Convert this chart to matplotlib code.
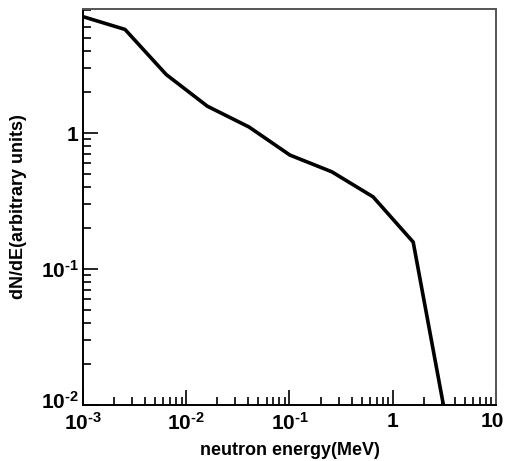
import matplotlib
matplotlib.use("Agg")
import matplotlib.pyplot as plt
import matplotlib.transforms as mtransforms
from matplotlib.ticker import LogLocator, FixedLocator, FixedFormatter, NullFormatter

plt.rcParams['font.family'] = ['Liberation Sans', 'DejaVu Sans']
plt.rcParams['font.weight'] = 'bold'
plt.rcParams['mathtext.fontset'] = 'custom'
plt.rcParams['mathtext.rm'] = 'Liberation Sans:bold'
plt.rcParams['mathtext.it'] = 'Liberation Sans:bold'
plt.rcParams['mathtext.bf'] = 'Liberation Sans:bold'
plt.rcParams['mathtext.default'] = 'rm'

# spectrum
energy = [1e-3, 2.55e-3, 6.4e-3, 0.016, 0.0406, 0.101, 0.257, 0.646, 1.58, 3.1]
dnde = [7.2, 5.8, 2.7, 1.58, 1.11, 0.69, 0.52, 0.34, 0.158, 0.01]

xticks = [1e-3, 1e-2, 1e-1, 1, 10]
xlabels = [r'$10^{\text{-3}}$', r'$10^{\text{-2}}$', r'$10^{\text{-1}}$', '1', '10']
yticks = [1e-2, 1e-1, 1]
ylabels = [r'$10^{\text{-2}}$', r'$10^{\text{-1}}$', '1']

fig = plt.figure(figsize=(5.05, 4.61), dpi=100)
ax = fig.add_axes([0.1644, 0.1215, 0.8176, 0.859])

ax.plot(energy, dnde, color='black', lw=2.6, solid_joinstyle='round')
ax.set_xscale('log')
ax.set_yscale('log')
ax.set_xlim(1e-3, 10)
ax.set_ylim(1e-2, 8.2)

ax.xaxis.set_major_locator(FixedLocator(xticks))
ax.xaxis.set_major_formatter(FixedFormatter(xlabels))
ax.yaxis.set_major_locator(FixedLocator(yticks))
ax.yaxis.set_major_formatter(FixedFormatter(ylabels))
ax.xaxis.set_minor_locator(LogLocator(base=10, subs=range(2, 10), numticks=20))
ax.yaxis.set_minor_locator(LogLocator(base=10, subs=range(2, 10), numticks=20))
ax.xaxis.set_minor_formatter(NullFormatter())
ax.yaxis.set_minor_formatter(NullFormatter())

ax.tick_params(which='both', direction='in', top=False, right=False, width=1.2, color='black')
ax.tick_params(which='major', length=11, labelsize=15)
ax.tick_params(axis='x', which='major', pad=5)
ax.tick_params(axis='y', which='major', pad=3)
ax.tick_params(which='minor', length=6)

# nudge the end labels the way the original sits them
fig.canvas.draw()
xl = ax.get_xticklabels()
xl[-1].set_transform(xl[-1].get_transform() + mtransforms.ScaledTranslation(-4 / 100, 0, fig.dpi_scale_trans))
yl = ax.get_yticklabels()
yl[0].set_transform(yl[0].get_transform() + mtransforms.ScaledTranslation(0, 5 / 100, fig.dpi_scale_trans))

for side in ['left', 'bottom']:
    ax.spines[side].set_linewidth(1.4)
    ax.spines[side].set_color('black')
for side in ['top', 'right']:
    ax.spines[side].set_linewidth(1.4)
    ax.spines[side].set_color('#555555')

ax.set_xlabel('neutron energy(MeV)', fontsize=13, fontweight='bold', labelpad=6)
ax.set_ylabel('dN/dE(arbitrary units)', fontsize=13, fontweight='bold', labelpad=10)

fig.savefig('out.png', dpi=100)
